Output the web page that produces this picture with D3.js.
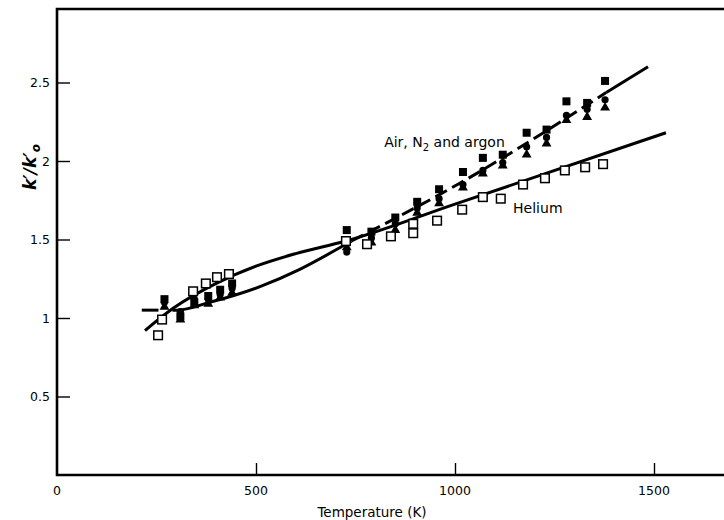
<!DOCTYPE html>
<html>
<head>
<meta charset="utf-8">
<script src="https://cdn.jsdelivr.net/npm/d3@7"></script>
<style>
  html, body { margin: 0; padding: 0; background: #fff; }
  svg { display: block; }
  text { font-family: "DejaVu Sans", "Liberation Sans", sans-serif; fill: #000; }
</style>
</head>
<body>
<svg id="chart" width="724" height="520"></svg>
<script>
// ---------- data ----------
const xTicks = [500, 1000, 1500];
const yTicks = [0.5, 1, 1.5, 2, 2.5];

// Helium (open squares)
const heliumT = [254, 264, 342, 374, 402, 432, 726, 779, 839, 895, 895, 955, 1018, 1070, 1115, 1171, 1226, 1276, 1327, 1372];
const heliumV = [0.89, 0.99, 1.17, 1.22, 1.26, 1.28, 1.49, 1.47, 1.52, 1.60, 1.54, 1.62, 1.69, 1.77, 1.76, 1.85, 1.89, 1.94, 1.96, 1.98];

// Air, N2 and argon (filled markers)
const gasT      = [270, 310, 345, 380, 410, 440, 728, 790, 850, 905, 960, 1020, 1070, 1120, 1180, 1230, 1280, 1332, 1377];
const airV      = [1.12, 1.01, 1.10, 1.14, 1.18, 1.22, 1.56, 1.55, 1.64, 1.74, 1.82, 1.93, 2.02, 2.04, 2.18, 2.20, 2.38, 2.37, 2.51];
const nitrogenV = [1.10, 1.04, 1.12, 1.12, 1.15, 1.19, 1.42, 1.51, 1.60, 1.70, 1.76, 1.85, 1.94, 1.99, 2.09, 2.15, 2.29, 2.33, 2.39];
const argonV    = [1.07, 0.99, 1.08, 1.09, 1.13, 1.16, 1.45, 1.48, 1.56, 1.67, 1.73, 1.83, 1.92, 1.97, 2.04, 2.11, 2.26, 2.28, 2.34];

// Fitted curves
const heliumCurveT = [221, 291, 400, 500, 600, 726, 1000, 1530];
const heliumCurveV = [0.92, 1.06, 1.22, 1.33, 1.41, 1.49, 1.725, 2.18];

const gasCurveT = [213, 255, 290, 301, 384, 510, 610, 726, 740, 1013, 1380, 1485];
const gasCurveV = [1.05, 1.05, 1.05, 1.05, 1.10, 1.20, 1.31, 1.47, 1.49, 1.86, 2.436, 2.60];

// ---------- layout ----------
const svg = d3.select("#chart");
const x = d3.scaleLinear().domain([0, 1000]).range([57, 455]);
const y = d3.scaleLinear().domain([0, 2.5]).range([475, 82.5]);
const yTop = 2.968;
const xRight = x.invert(760);

// frame
svg.append("path")
  .attr("d", `M${x(xRight)},${y(yTop)} L${x(0)},${y(yTop)} L${x(0)},${y(0)} L${x(xRight)},${y(0)}`)
  .attr("fill", "none").attr("stroke", "#000").attr("stroke-width", 2.6);

// y axis ticks (inward)
const yAxis = d3.axisRight(y).tickValues(yTicks).tickSize(13).tickFormat("");
const gy = svg.append("g").attr("transform", `translate(${x(0)},0)`).call(yAxis);
gy.select(".domain").remove();
gy.selectAll(".tick line").attr("stroke-width", 1.4);
svg.selectAll(".ylab").data(yTicks).enter().append("text")
  .attr("x", 50).attr("y", d => y(d) + 4.5)
  .attr("text-anchor", "end").attr("font-size", 12.5)
  .text(d => d3.format("")(d));

// x axis ticks (inward)
const xAxis = d3.axisTop(x).tickValues(xTicks).tickSize(12).tickFormat("");
const gx = svg.append("g").attr("transform", `translate(0,${y(0)})`).call(xAxis);
gx.select(".domain").remove();
gx.selectAll(".tick line").attr("stroke-width", 1.4);
svg.selectAll(".xlab").data([0].concat(xTicks)).enter().append("text")
  .attr("x", d => x(d)).attr("y", 495)
  .attr("text-anchor", "middle").attr("font-size", 12.5)
  .text(d => d);

// axis titles
svg.append("text").attr("x", 372).attr("y", 517).attr("text-anchor", "middle")
  .attr("font-size", 13.5).text("Temperature (K)");

const yt = svg.append("text").attr("transform", "translate(36,167) rotate(-90)")
  .attr("text-anchor", "middle").attr("font-size", 17).attr("font-style", "italic").attr("font-weight", "bold");
yt.append("tspan").text("k′/k′");
yt.append("tspan").attr("font-size", 12).attr("dy", 4).text("o");

// ---------- curves ----------
const line = d3.line().x(d => x(d[0])).y(d => y(d[1])).curve(d3.curveMonotoneX);
const heliumCurve = heliumCurveT.map((t, i) => [t, heliumCurveV[i]]);
const gasCurve = gasCurveT.map((t, i) => [t, gasCurveV[i]]);
const seg = (a, b) => gasCurve.filter(d => d[0] >= a && d[0] <= b);

svg.append("path").attr("d", line(heliumCurve))
  .attr("fill", "none").attr("stroke", "#000").attr("stroke-width", 3);

svg.append("path").attr("d", line(seg(213, 255)))
  .attr("fill", "none").attr("stroke", "#000").attr("stroke-width", 3);
svg.append("path").attr("d", line(seg(290, 740)))
  .attr("fill", "none").attr("stroke", "#000").attr("stroke-width", 3);
svg.append("path").attr("d", line(seg(740, 1380)))
  .attr("fill", "none").attr("stroke", "#000").attr("stroke-width", 3)
  .attr("stroke-dasharray", "13,6");
svg.append("path").attr("d", line(seg(1380, 1485)))
  .attr("fill", "none").attr("stroke", "#000").attr("stroke-width", 3);

// ---------- markers ----------
const sym = (type, size) => d3.symbol().type(type).size(size);

svg.selectAll(".argon").data(gasT.map((t, i) => [t, argonV[i]])).enter().append("path")
  .attr("transform", d => `translate(${x(d[0])},${y(d[1])})`)
  .attr("d", sym(d3.symbolTriangle, 42)()).attr("fill", "#000");

svg.selectAll(".n2").data(gasT.map((t, i) => [t, nitrogenV[i]])).enter().append("circle")
  .attr("cx", d => x(d[0])).attr("cy", d => y(d[1])).attr("r", 3.6).attr("fill", "#000");

svg.selectAll(".air").data(gasT.map((t, i) => [t, airV[i]])).enter().append("rect")
  .attr("x", d => x(d[0]) - 4).attr("y", d => y(d[1]) - 4)
  .attr("width", 8).attr("height", 8).attr("fill", "#000");

svg.selectAll(".he").data(heliumT.map((t, i) => [t, heliumV[i]])).enter().append("rect")
  .attr("x", d => x(d[0]) - 4.3).attr("y", d => y(d[1]) - 4.3)
  .attr("width", 8.6).attr("height", 8.6)
  .attr("fill", "#fff").attr("stroke", "#000").attr("stroke-width", 1.5);

// ---------- labels ----------
const lab = svg.append("text").attr("x", x(822)).attr("y", y(2.09)).attr("font-size", 14);
lab.append("tspan").text("Air, N");
lab.append("tspan").attr("font-size", 10).attr("dy", 4).text("2");
lab.append("tspan").attr("dy", -4).text(" and argon");

svg.append("text").attr("x", x(1146)).attr("y", y(1.67)).attr("font-size", 14).text("Helium");
</script>
</body>
</html>
